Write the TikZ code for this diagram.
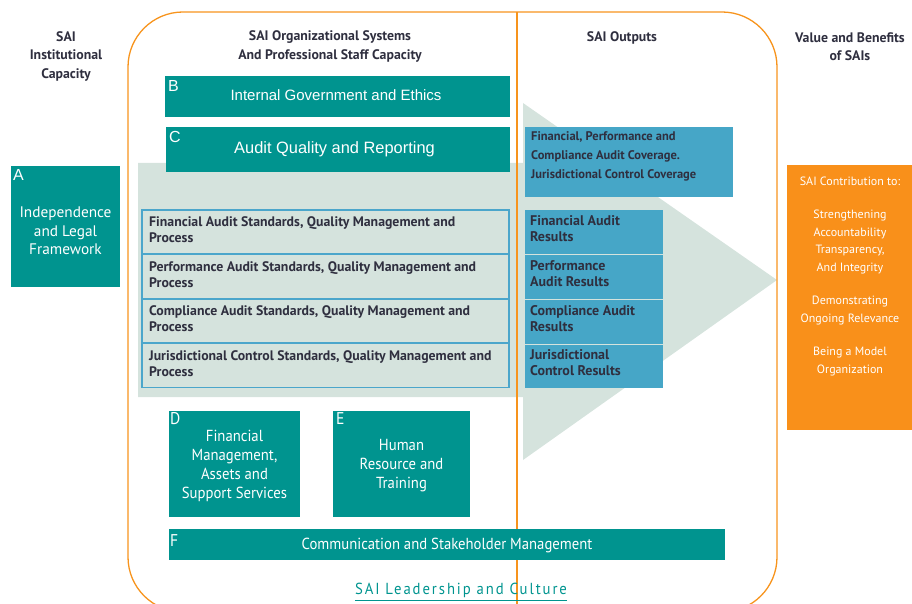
\documentclass[tikz,border=0pt]{standalone}
\usepackage{fontspec}
\setmainfont{PT Sans}
\newfontfamily\arialf{Liberation Sans}
\newfontfamily\narrowf[FakeStretch=0.92]{PT Sans}
\definecolor{tealc}{HTML}{00948F}
\definecolor{bluebox}{HTML}{46A6C7}
\definecolor{blueline}{HTML}{4BA6CB}
\definecolor{greyg}{HTML}{D5E3DD}
\definecolor{orng}{HTML}{F9901A}
\definecolor{orline}{HTML}{F7941D}
\definecolor{darktext}{HTML}{2F2F3F}
\tikzset{
  tealbox/.style={fill=tealc, draw=none, inner sep=0pt, anchor=north west},
  btxt/.style={text=white, align=center, inner sep=0pt},
  letter/.style={text=white, font=\arialf\fontsize{16}{16}\selectfont, anchor=north west, inner sep=0pt},
  nletter/.style={text=white, font=\narrowf\fontsize{17}{17}\selectfont, anchor=north west, inner sep=0pt},
  stdbox/.style={fill=greyg, draw=blueline, line width=1.5pt, anchor=north west, inner sep=0pt, minimum width=367pt, minimum height=44pt},
  stdtxt/.style={anchor=west, align=left, inner sep=0pt, text=darktext, font=\bfseries\fontsize{13.8}{16}\selectfont},
  outbox/.style={fill=bluebox, draw=none, anchor=north west, inner sep=0pt},
  header/.style={text=darktext, font=\bfseries\fontsize{13.8}{18.5}\selectfont, align=center, inner sep=0pt},
}
\begin{document}
\begin{tikzpicture}[x=1pt,y=-1pt]
\useasboundingbox (0,0) rectangle (912,604);
% grey arrow background
\fill[greyg] (138,163) -- (523,163) -- (523,103) -- (777,280) -- (523,460) -- (523,397) -- (138,397) -- cycle;
% frame
\draw[orline, line width=1.3pt, rounded corners=55pt] (128,12) rectangle (777,612);
\draw[orline, line width=1.3pt] (517,12) -- (517,604);
% headers
\node[header] (h1) at (66,56) {SAI\\Institutional\\Capacity};
\node[header] (h2) at (330,46.5) {SAI Organizational Systems\\And Professional Staff Capacity};
\node[header] (h3) at (622,37.5) {SAI Outputs};
\node[header] (h4) at (850,46.5) {Value and Benefits\\of SAIs};
% A
\node[tealbox, minimum width=109pt, minimum height=121pt] (A) at (11,166) {};
\node[btxt, font=\fontsize{15.3}{18.5}\selectfont] (At) at (65.5,231) {Independence\\and Legal\\Framework};
\node[letter] (lA) at ([shift={(2,3)}]A.north west) {A};
% B, C
\node[tealbox, minimum width=345pt, minimum height=41pt] (B) at (165,76) {};
\node[btxt, font=\arialf\fontsize{15}{18}\selectfont] (Bt) at (336,95.5) {Internal Government and Ethics};
\node[letter] (lB) at ([shift={(3,4)}]B.north west) {B};
\node[tealbox, minimum width=344pt, minimum height=45pt] (C) at (166,127) {};
\node[btxt, font=\arialf\fontsize{16.4}{18}\selectfont] (Ct) at (334.5,149.5) {Audit Quality and Reporting};
\node[letter] (lC) at ([shift={(3,4)}]C.north west) {C};
% standards
\node[stdbox] (s1) at (141,209) {};
\node[stdbox] (s2) at (141,253.5) {};
\node[stdbox] (s3) at (141,298) {};
\node[stdbox] (s4) at (141,342.5) {};
\node[stdtxt] (s1t) at (149,230) {Financial Audit Standards, Quality Management and\\Process};
\node[stdtxt] (s2t) at (149,274.5) {Performance Audit Standards, Quality Management and\\Process};
\node[stdtxt] (s3t) at (149,319) {Compliance Audit Standards, Quality Management and\\Process};
\node[stdtxt] (s4t) at (149,363.5) {Jurisdictional Control Standards, Quality Management and\\Process};
% outputs
\node[outbox, minimum width=208pt, minimum height=70pt] (cov) at (525,127) {};
\node[stdtxt, font=\bfseries\fontsize{12.5}{19}\selectfont] (covt) at (531,156.5) {Financial, Performance and\\Compliance Audit Coverage.\\Jurisdictional Control Coverage};
\node[outbox, minimum width=138pt, minimum height=44pt] (r1) at (525,209.5) {};
\node[outbox, minimum width=138pt, minimum height=44pt] (r2) at (525,254.5) {};
\node[outbox, minimum width=138pt, minimum height=44pt] (r3) at (525,299.5) {};
\node[outbox, minimum width=138pt, minimum height=43pt] (r4) at (525,344.5) {};
\node[stdtxt, font=\bfseries\fontsize{14}{16}\selectfont] (r1t) at (530,228.5) {Financial Audit\\Results};
\node[stdtxt, font=\bfseries\fontsize{14}{16}\selectfont] (r2t) at (530,273.5) {Performance\\Audit Results};
\node[stdtxt, font=\bfseries\fontsize{14}{16}\selectfont] (r3t) at (530,318.5) {Compliance Audit\\Results};
\node[stdtxt, font=\bfseries\fontsize{14}{16}\selectfont] (r4t) at (530,362.5) {Jurisdictional\\Control Results};
% orange box
\node[fill=orng, anchor=north west, minimum width=125pt, minimum height=265pt, inner sep=0pt] (val) at (787,165) {};
\node[text=white, anchor=north, align=center, inner sep=0pt, font=\fontsize{12}{17.5}\selectfont] (valt) at (850,176.5)
 {SAI Contribution to:\\[16pt]Strengthening\\Accountability\\Transparency,\\And Integrity\\[16pt]Demonstrating\\Ongoing Relevance\\[16pt]Being a Model\\Organization};
% D, E, F
\node[tealbox, minimum width=131pt, minimum height=106pt] (D) at (169,411) {};
\node[btxt, font=\narrowf\fontsize{16}{19}\selectfont] (Dt) at (234.5,466) {Financial\\Management,\\Assets and\\Support Services};
\node[nletter] (lD) at ([shift={(1,1)}]D.north west) {D};
\node[tealbox, minimum width=137pt, minimum height=106pt] (E) at (333,411) {};
\node[btxt, font=\narrowf\fontsize{16}{19}\selectfont] (Et) at (401.5,465.5) {Human\\Resource and\\Training};
\node[nletter] (lE) at ([shift={(3,1)}]E.north west) {E};
\node[tealbox, minimum width=556pt, minimum height=31pt] (F) at (169,529) {};
\node[btxt, font=\narrowf\fontsize{16}{19}\selectfont] (Ft) at (447,545) {Communication and Stakeholder Management};
\node[nletter] (lF) at ([shift={(1,5)}]F.north west) {F};
% leadership
\node[text=tealc, inner sep=0pt, font=\narrowf\addfontfeature{LetterSpace=12}\fontsize{16}{15}\selectfont] (lead) at (461,590) {SAI Leadership and Culture};
\draw[tealc, line width=0.8pt] ([yshift=-3pt]lead.south west) -- ([yshift=-3pt]lead.south east);
\end{tikzpicture}
\end{document}
